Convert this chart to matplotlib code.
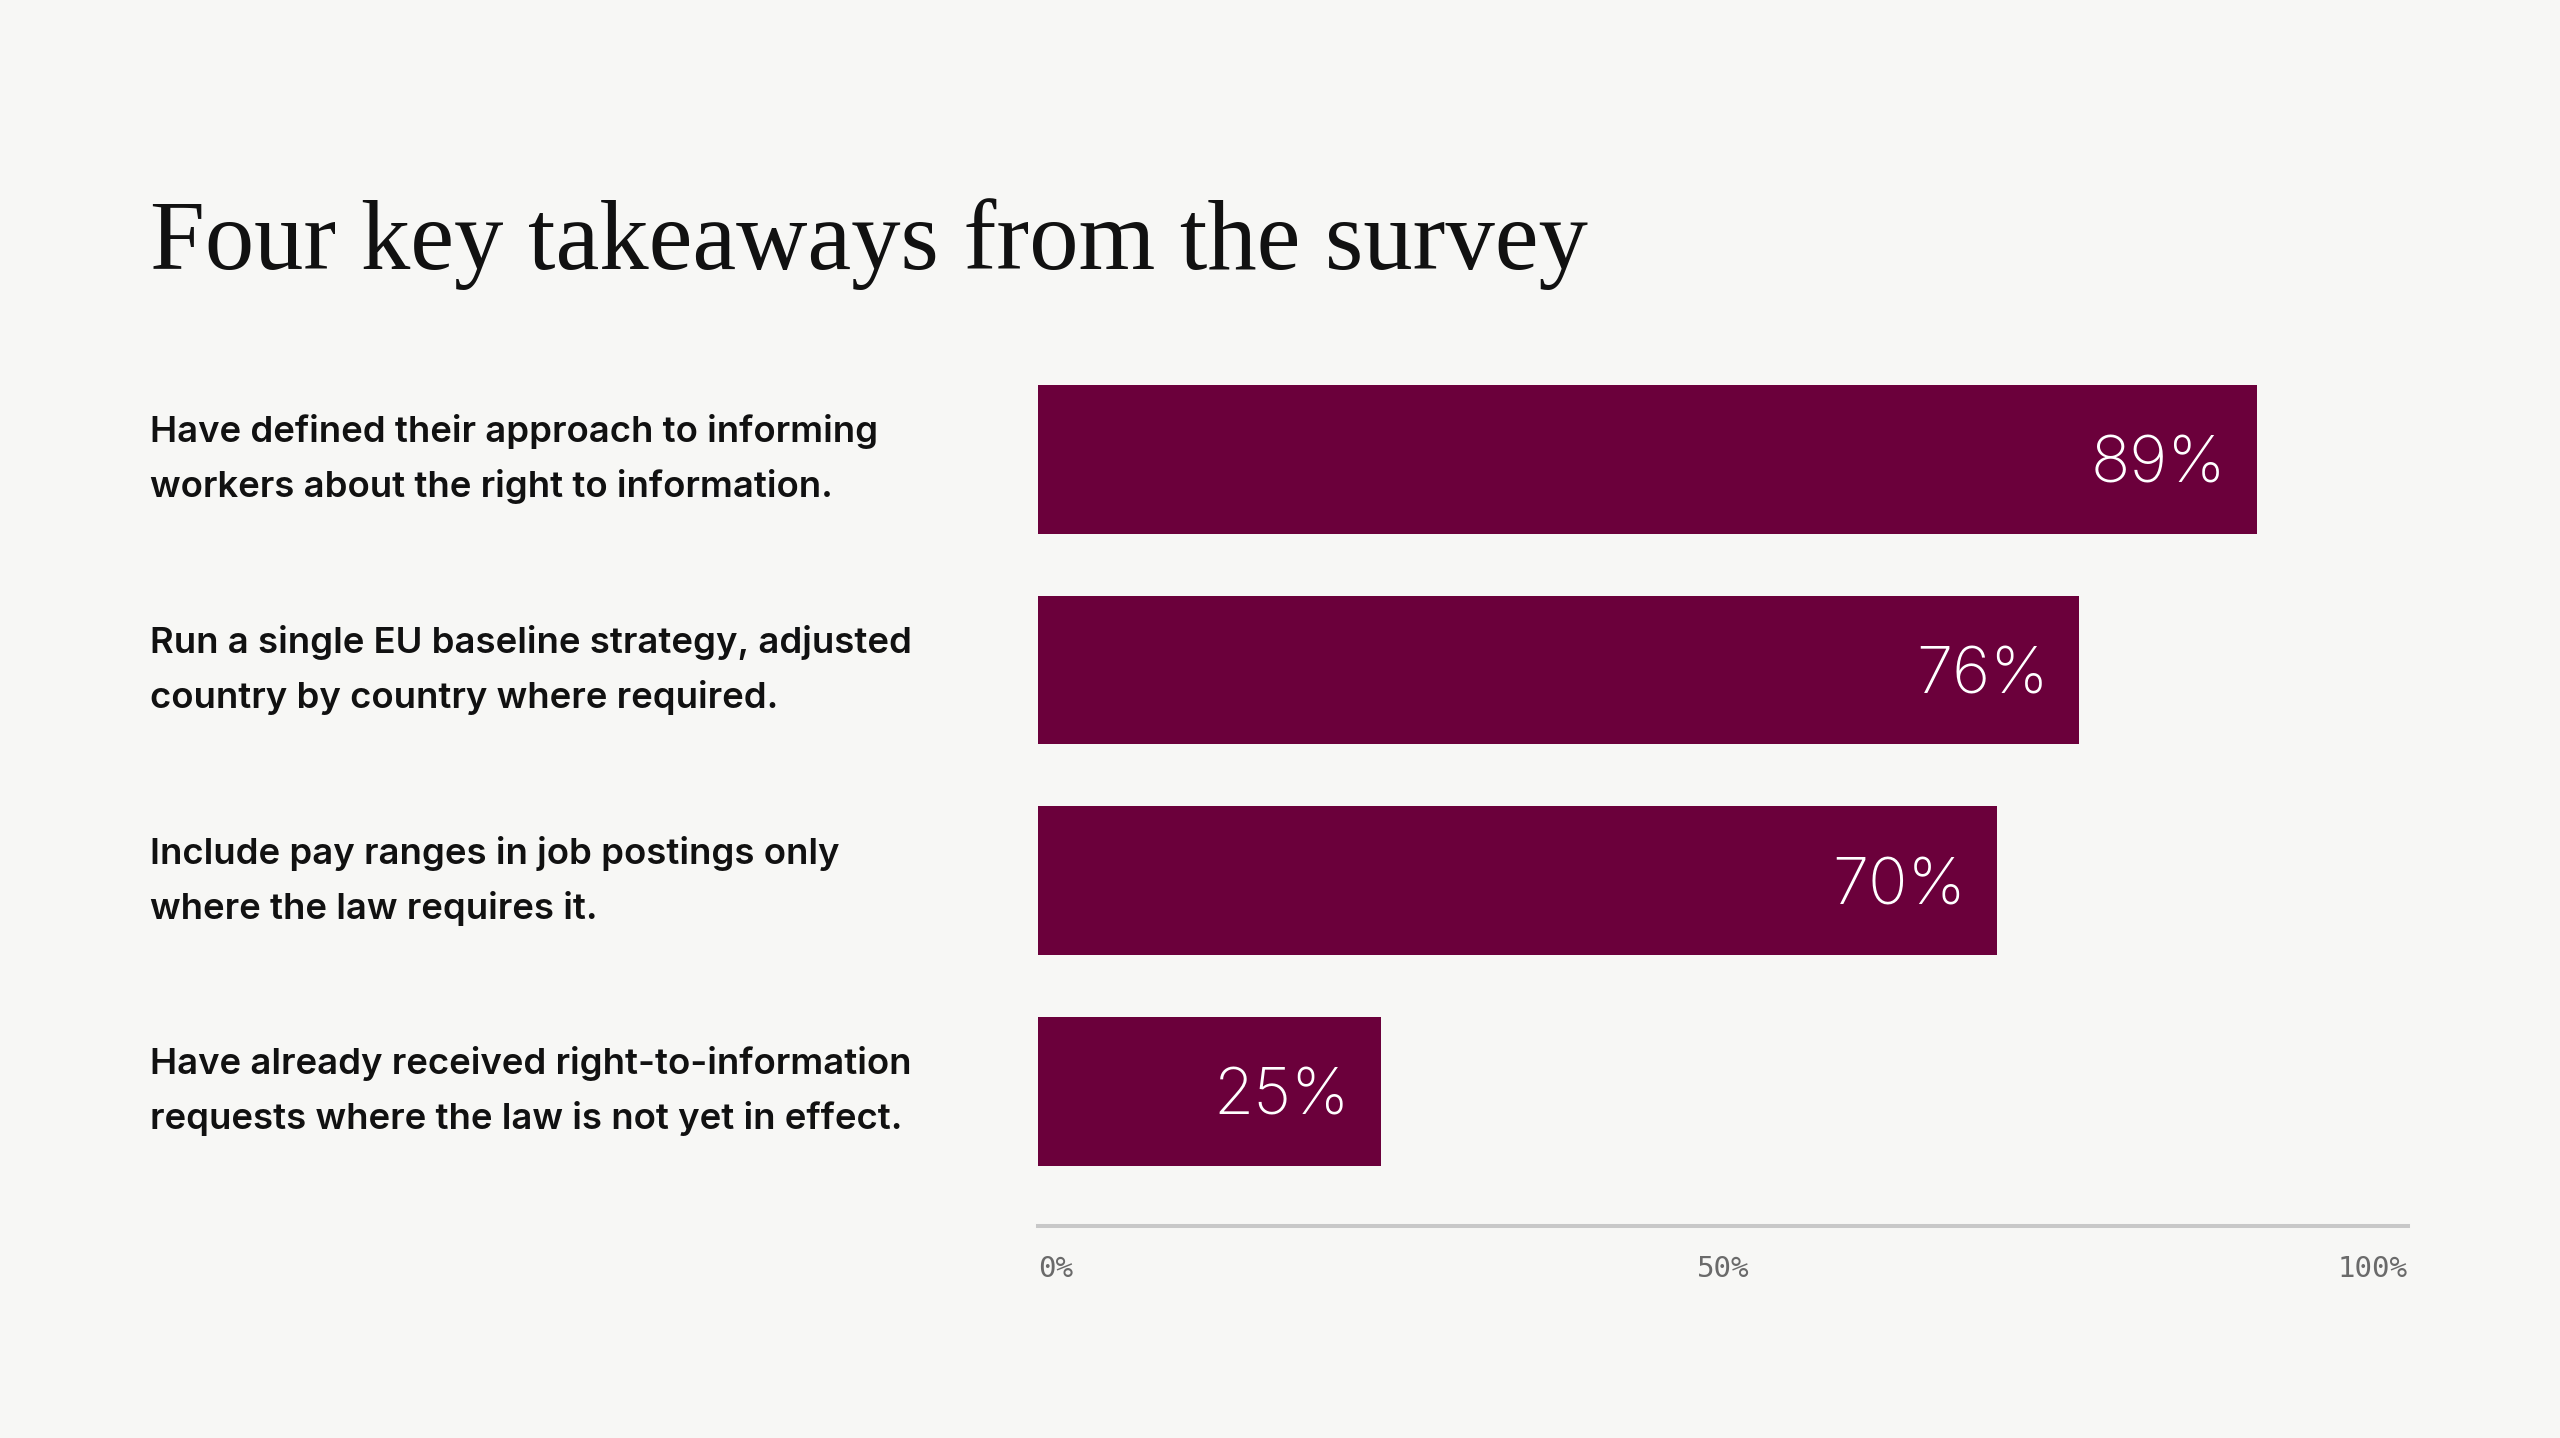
import matplotlib.pyplot as plt
from matplotlib import transforms

categories = [
    "Have defined their approach to informing\nworkers about the right to information.",
    "Run a single EU baseline strategy, adjusted\ncountry by country where required.",
    "Include pay ranges in job postings only\nwhere the law requires it.",
    "Have already received right-to-information\nrequests where the law is not yet in effect.",
]
values = [89, 76, 70, 25]
tick_values = [0, 50, 100]
tick_labels = ["0%", "50%", "100%"]

bg = "#F7F7F5"
bar_color = "#6B003B"

fig = plt.figure(figsize=(25.6, 14.38), dpi=100, facecolor=bg)
ax = fig.add_axes([0.4055, 0.1474, 0.5351, 0.621])
ax.set_facecolor(bg)

y = list(range(len(values)))
ax.barh(y, values, height=0.707, color=bar_color)
ax.set_xlim(0, 100)
ax.set_ylim(3.64, -0.6)

# value labels inside the bars
for i, v in enumerate(values):
    ax.annotate(f"{v}%", xy=(v, i), xytext=(-22, 0), textcoords="offset points",
                ha="right", va="center_baseline", color="white",
                fontsize=47, fontfamily="Inter", fontweight="light")

# category labels on the left
trans = transforms.blended_transform_factory(fig.transFigure, ax.transData)
for i, lab in enumerate(categories):
    ax.text(0.0586, i, lab, transform=trans, ha="left", va="center",
            fontsize=26.3, fontfamily="Inter", fontweight="semibold",
            color="#111111", linespacing=1.72)

for s in ["top", "right", "left"]:
    ax.spines[s].set_visible(False)
ax.spines["bottom"].set_color("#C8C8C8")
ax.spines["bottom"].set_linewidth(2.9)
ax.set_yticks([])
ax.set_xticks(tick_values)
ax.set_xticklabels(tick_labels, fontfamily="DejaVu Sans Mono", fontsize=21, color="#6A6A6A")
ax.tick_params(axis="x", length=0, pad=21)
labs = ax.get_xticklabels()
labs[0].set_ha("left")
labs[-1].set_ha("right")

fig.text(0.0586, 1 - 269 / 1438, "Four key takeaways from the survey",
         fontfamily="Liberation Serif", fontsize=71, color="#111111",
         ha="left", va="baseline")

fig.savefig("out.png", dpi=100, facecolor=bg)
